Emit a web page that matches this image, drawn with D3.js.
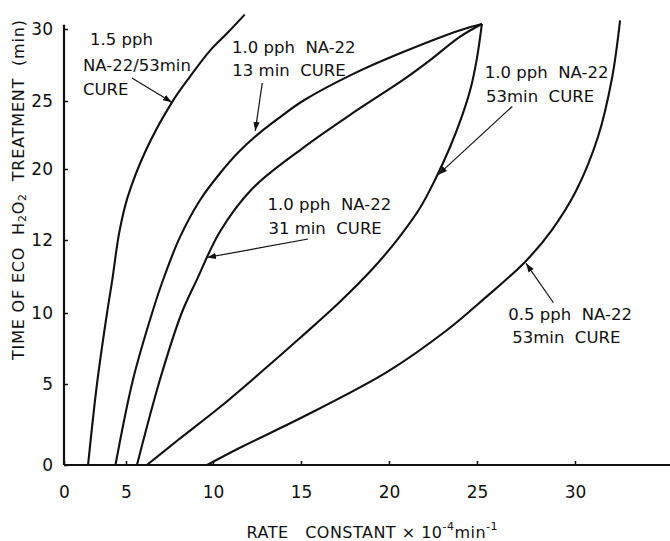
<!DOCTYPE html>
<html>
<head>
<meta charset="utf-8">
<script src="https://cdn.jsdelivr.net/npm/d3@7"></script>
<style>
  body { margin: 0; background: #fff; }
  svg { display: block; }
  text { font-family: "DejaVu Sans", sans-serif; fill: #111; }
</style>
</head>
<body>
<svg id="chart" width="670" height="541"></svg>
<script>
// tick values (the y label at 15 is printed as "12")
const xTicks = [0, 5, 10, 15, 20, 25, 30];
const yTicks = [0, 5, 10, 15, 20, 25, 30];
const yTickLabels = ["0", "5", "10", "12", "20", "25", "30"];
const xMax = 34.9;
const yMax = 30.3;

// rate constant (x) vs time of treatment (y), one array per cure
const cure15pph53 = [[1.94, 0], [2.66, 5], [3.47, 10], [3.9, 12.3], [4.45, 15.5], [5.09, 18.0],
  [6.15, 21.4], [7.64, 24.9], [8.68, 26.7], [9.83, 28.5], [10.8, 29.7], [11.8, 31.0]];
const cure10pph13 = [[4.15, 0], [5.4, 5.3], [6.5, 10], [7.2, 12.5], [8.1, 15.2], [9.25, 17.8],
  [10.4, 19.7], [11.5, 21.3], [12.6, 22.6], [13.8, 23.8], [15.1, 25.0], [18, 26.9],
  [20.8, 28.4], [24, 29.9], [25.25, 30.35]];
const cure10pph31 = [[5.63, 0], [6.95, 5.3], [8.2, 10], [9.08, 12.3], [10.4, 15.6], [12.27, 18.66],
  [15.1, 21.54], [17.95, 24.12], [20.8, 26.46], [22.3, 27.8], [24, 29.44], [25.25, 30.35]];
const cure10pph53 = [[6.2, 0], [7.99, 1.54], [10.4, 3.58], [12.67, 5.77], [14.94, 8.24],
  [17.2, 10.75], [19.2, 13.2], [20.63, 15.28], [21.76, 17.25], [22.61, 19.23], [23.47, 21.62],
  [24.15, 23.9], [24.66, 25.97], [25.0, 27.99], [25.25, 30.35]];
const cure05pph53 = [[9.66, 0], [11.5, 1.05], [15.1, 2.96], [19.9, 5.85], [23.3, 8.8],
  [25.3, 10.9], [27.45, 13.5], [28.78, 15.63], [30.05, 18.45], [31.17, 22.35], [31.89, 26.6],
  [32.3, 30.6]];

const series = [cure15pph53, cure10pph13, cure10pph31, cure10pph53, cure05pph53];

// curve labels, in data units: text lines, arrow tail and arrow tip
const notes = [
  { lines: [[2.1, 29.3, "1.5 pph"], [1.53, 27.5, "NA-22/53min"], [1.53, 25.8, "CURE"]],
    from: [5.34, 26.6], to: [7.64, 24.9] },
  { lines: [[11.08, 28.7, "1.0 pph  NA-22"], [11.1, 27.1, "13 min  CURE"]],
    from: [12.8, 26.25], to: [12.4, 22.8] },
  { lines: [[13.1, 17.5, "1.0 pph  NA-22"], [13.15, 15.8, "31 min  CURE"]],
    from: [15.4, 15.07], to: [9.66, 13.8] },
  { lines: [[25.4, 27.0, "1.0 pph  NA-22"], [25.46, 25.3, "53min  CURE"]],
    from: [26.8, 24.6], to: [22.8, 19.6] },
  { lines: [[26.6, 9.86, "0.5 pph  NA-22"], [26.8, 8.24, "53min  CURE"]],
    from: [28.9, 10.7], to: [27.5, 13.4] }
];

const svg = d3.select("#chart");

// the scanned axes are not evenly spaced, so the scales follow the printed ticks
const x = d3.scaleLinear().domain(xTicks).range([64, 126, 213, 301, 389, 477, 575]);
const y = d3.scaleLinear().domain(yTicks).range([465, 384, 313, 240, 169, 101, 29]);

svg.append("defs").append("marker")
  .attr("id", "arrow")
  .attr("viewBox", "0 0 10 10")
  .attr("refX", 10)
  .attr("refY", 5)
  .attr("markerWidth", 9)
  .attr("markerHeight", 9)
  .attr("markerUnits", "userSpaceOnUse")
  .attr("orient", "auto")
  .append("path")
  .attr("d", "M0,1.5L10,5L0,8.5z")
  .attr("fill", "#111");

// axes
svg.append("g")
  .attr("transform", `translate(0,${y(0)})`)
  .call(d3.axisBottom(x).tickValues(xTicks).tickSizeInner(-4).tickSizeOuter(0).tickPadding(21))
  .attr("font-size", 17)
  .attr("font-family", null)
  .call(g => g.select(".domain").remove())
  .call(g => g.selectAll(".tick line").attr("stroke", "#111").attr("stroke-width", 1.5));

svg.append("g")
  .attr("transform", `translate(${x(0)},0)`)
  .call(d3.axisLeft(y).tickValues(yTicks).tickFormat((d, i) => yTickLabels[i])
    .tickSizeInner(-4).tickSizeOuter(0).tickPadding(11))
  .attr("font-size", 17)
  .attr("font-family", null)
  .call(g => g.select(".domain").remove())
  .call(g => g.selectAll(".tick line").attr("stroke", "#111").attr("stroke-width", 1.5));

svg.append("line")
  .attr("x1", x(0)).attr("x2", x(xMax))
  .attr("y1", y(0)).attr("y2", y(0))
  .attr("stroke", "#111").attr("stroke-width", 2.2);

svg.append("line")
  .attr("x1", x(0)).attr("x2", x(0))
  .attr("y1", y(0)).attr("y2", y(yMax))
  .attr("stroke", "#111").attr("stroke-width", 2.2);

// curves
const line = d3.line()
  .x(d => x(d[0]))
  .y(d => y(d[1]))
  .curve(d3.curveCatmullRom.alpha(0.5));

svg.selectAll(".curve")
  .data(series)
  .enter()
  .append("path")
  .attr("class", "curve")
  .attr("d", line)
  .attr("fill", "none")
  .attr("stroke", "#111")
  .attr("stroke-width", 2.1);

// labels and arrows
const note = svg.selectAll(".note")
  .data(notes)
  .enter()
  .append("g")
  .attr("class", "note");

note.append("line")
  .attr("x1", d => x(d.from[0]))
  .attr("y1", d => y(d.from[1]))
  .attr("x2", d => x(d.to[0]))
  .attr("y2", d => y(d.to[1]))
  .attr("stroke", "#111")
  .attr("stroke-width", 1.2)
  .attr("marker-end", "url(#arrow)");

note.selectAll("text")
  .data(d => d.lines)
  .enter()
  .append("text")
  .attr("x", d => x(d[0]))
  .attr("y", d => y(d[1]))
  .attr("dominant-baseline", "central")
  .attr("font-size", 16.5)
  .style("white-space", "pre")
  .text(d => d[2]);

// axis titles
const yTitle = svg.append("text")
  .attr("transform", "translate(18,190) rotate(-90)")
  .attr("text-anchor", "middle")
  .attr("dominant-baseline", "central")
  .attr("font-size", 16)
  .attr("textLength", 340)
  .attr("lengthAdjust", "spacing")
  .style("white-space", "pre");
yTitle.append("tspan").text("TIME OF ECO  H");
yTitle.append("tspan").attr("font-size", 11).attr("dy", 4).text("2");
yTitle.append("tspan").attr("dy", -4).text("O");
yTitle.append("tspan").attr("font-size", 11).attr("dy", 4).text("2");
yTitle.append("tspan").attr("dy", -4).text("  TREATMENT  (min)");

const xTitle = svg.append("text")
  .attr("x", 372)
  .attr("y", 532)
  .attr("text-anchor", "middle")
  .attr("dominant-baseline", "central")
  .attr("font-size", 16)
  .attr("textLength", 251)
  .attr("lengthAdjust", "spacing")
  .style("white-space", "pre");
xTitle.append("tspan").text("RATE   CONSTANT \u00d7 10");
xTitle.append("tspan").attr("font-size", 11).attr("dy", -6).text("-4");
xTitle.append("tspan").attr("dy", 6).text("min");
xTitle.append("tspan").attr("font-size", 11).attr("dy", -6).text("-1");
</script>
</body>
</html>
